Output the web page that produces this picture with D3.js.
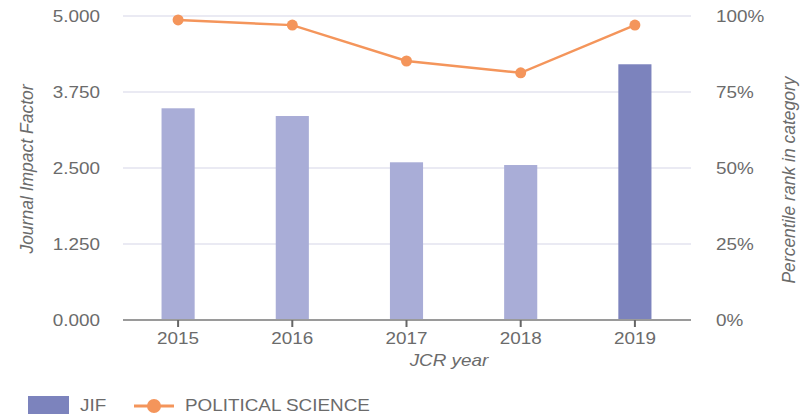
<!DOCTYPE html>
<html><head><meta charset="utf-8">
<script src="https://cdn.jsdelivr.net/npm/d3@7"></script>
<style>html,body{margin:0;padding:0;background:#fff}svg{display:block;font-family:"Liberation Sans",Arial,sans-serif}</style>
</head><body>
<svg id="c" width="804" height="415"></svg>
<script>
const years = ["2015","2016","2017","2018","2019"];
const jif = [3.482, 3.355, 2.594, 2.549, 4.206];
const percentile = [98.7, 97.0, 85.2, 81.3, 97.0];
const jifTicks = [0, 1.25, 2.5, 3.75, 5];
const pctTicks = [0, 25, 50, 75, 100];

const svg = d3.select("#c");
const SX = 1.18;
const textCol = "#6b6b6b";
const x = d3.scaleBand().domain(years).range([121, 692]).paddingInner(0.71).paddingOuter(0.355);
const yL = d3.scaleLinear().domain([0,5]).range([320,16]);
const yR = d3.scaleLinear().domain([0,100]).range([320,16]);

// gridlines
svg.append("g").selectAll("line").data(jifTicks.filter(d=>d>0)).join("line")
  .attr("x1",123).attr("x2",691).attr("y1",d=>yL(d)).attr("y2",d=>yL(d))
  .attr("stroke","#e3e3ef").attr("stroke-width",1.5);

// left tick labels
svg.append("g").selectAll("text").data(jifTicks).join("text")
  .attr("transform",d=>`translate(100,${yL(d)}) scale(${SX},1)`)
  .attr("text-anchor","end").attr("dy","0.35em").attr("font-size",16).attr("fill",textCol)
  .text(d=>d3.format(".3f")(d));
// right tick labels
svg.append("g").selectAll("text").data(pctTicks).join("text")
  .attr("transform",d=>`translate(716,${yR(d)}) scale(${SX},1)`)
  .attr("text-anchor","start").attr("dy","0.35em").attr("font-size",16).attr("fill",textCol)
  .text(d=>d+"%");

// bars
svg.append("g").selectAll("rect").data(years).join("rect")
  .attr("x",d=>x(d)).attr("width",x.bandwidth())
  .attr("y",(d,i)=>yL(jif[i])).attr("height",(d,i)=>yL(0)-yL(jif[i]))
  .attr("fill",(d,i)=>i===years.length-1?"#7c83bd":"#a9add7");

// x axis
svg.append("line").attr("x1",123).attr("x2",691).attr("y1",320).attr("y2",320)
  .attr("stroke","#9a9a9a").attr("stroke-width",2);
svg.append("g").selectAll("line").data(years).join("line")
  .attr("x1",d=>x(d)+x.bandwidth()/2).attr("x2",d=>x(d)+x.bandwidth()/2)
  .attr("y1",320).attr("y2",327).attr("stroke","#666").attr("stroke-width",2);
svg.append("g").selectAll("text").data(years).join("text")
  .attr("transform",d=>`translate(${x(d)+x.bandwidth()/2},344) scale(${SX},1)`)
  .attr("text-anchor","middle").attr("font-size",16).attr("fill",textCol).text(d=>d);

// line
const cx = (d,i)=>x(years[i])+x.bandwidth()/2;
svg.append("path").datum(percentile)
  .attr("d", d3.line().x(cx).y(d=>yR(d)))
  .attr("fill","none").attr("stroke","#f4955b").attr("stroke-width",2.5);
svg.append("g").selectAll("circle").data(percentile).join("circle")
  .attr("cx",cx).attr("cy",d=>yR(d)).attr("r",5.5).attr("fill","#f4955b");

// axis titles
svg.append("text").attr("transform",`translate(449,366) scale(${SX},1)`)
  .attr("text-anchor","middle").attr("font-size",16).attr("font-style","italic").attr("fill",textCol).text("JCR year");
svg.append("text").attr("transform","translate(33,169) rotate(-90)")
  .attr("text-anchor","middle").attr("font-size",17.5).attr("font-style","italic").attr("fill",textCol).text("Journal Impact Factor");
svg.append("text").attr("transform","translate(795,180) rotate(-90)")
  .attr("text-anchor","middle").attr("font-size",17.5).attr("font-style","italic").attr("fill",textCol).text("Percentile rank in category");

// legend
svg.append("rect").attr("x",28).attr("y",396).attr("width",41).attr("height",18).attr("fill","#7c83bd");
svg.append("text").attr("transform",`translate(80,411) scale(${SX},1)`).attr("font-size",16).attr("fill",textCol).text("JIF");
svg.append("line").attr("x1",134).attr("x2",174).attr("y1",406).attr("y2",406).attr("stroke","#f4955b").attr("stroke-width",3);
svg.append("circle").attr("cx",154).attr("cy",406).attr("r",7).attr("fill","#f4955b");
svg.append("text").attr("transform",`translate(185,411) scale(${SX},1)`).attr("font-size",16).attr("fill",textCol).text("POLITICAL SCIENCE");
</script>
</body></html>
